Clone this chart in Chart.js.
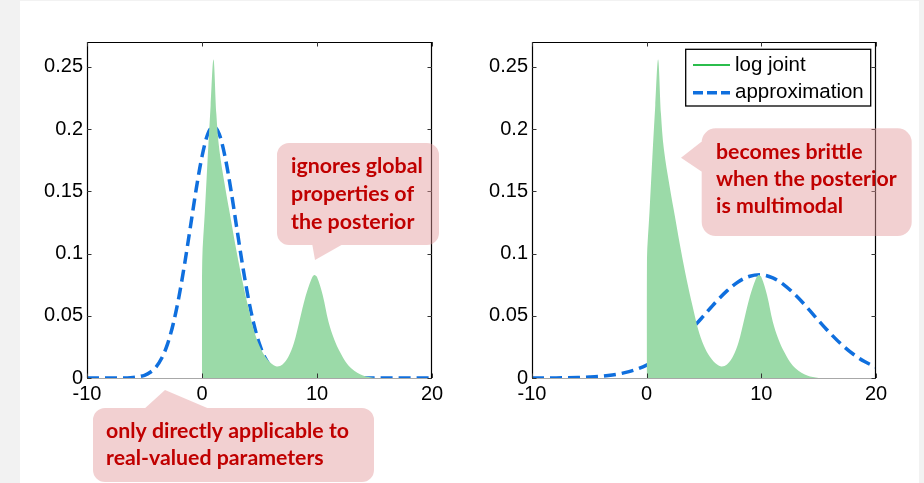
<!DOCTYPE html>
<html><head><meta charset="utf-8">
<script src="https://cdn.jsdelivr.net/npm/chart.js@4.4.1/dist/chart.umd.min.js"></script>
<style>
html,body{margin:0;padding:0;background:#f2f2f2;width:924px;height:483px;overflow:hidden}
#panel{position:absolute;left:20px;top:1px;width:899px;height:482px;background:#fff}
canvas{position:absolute;top:0}
#c1{left:0px}
#c2{left:462px}
</style></head><body>
<div id="panel"></div>
<canvas id="c1" width="462" height="483"></canvas>
<canvas id="c2" width="462" height="483"></canvas>
<script>
// ---- data ----
const xTicks = [-10, 0, 10, 20];
const xTickLabels = ['-10', '0', '10', '20'];
const yTicks = [0, 0.05, 0.1, 0.15, 0.2, 0.25];
const yTickLabels = ['0', '0.05', '0.1', '0.15', '0.2', '0.25'];
const seriesNames = ['log joint', 'approximation'];

const logJointX = [0, 0.02, 0.25, 0.5, 0.75, 1, 1.25, 1.5, 2, 2.5, 3, 3.5, 4, 4.5, 5, 5.5, 6, 6.5, 7, 7.5, 8, 8.5, 9, 9.5, 9.75, 10, 10.5, 11, 11.5, 12, 12.5, 13, 13.5, 14, 14.5, 15];
const logJointY = [0, 0.094, 0.134, 0.178, 0.219, 0.256, 0.212, 0.184, 0.154, 0.128, 0.102, 0.0786, 0.0578, 0.0388, 0.0258, 0.0172, 0.0118, 0.0093, 0.0108, 0.0168, 0.0283, 0.0468, 0.0655, 0.0792, 0.0828, 0.0812, 0.0665, 0.0452, 0.031, 0.0208, 0.0128, 0.0076, 0.0042, 0.0021, 0.0008, 0];

const approxLeftX = [-10, -9.5, -9, -8.5, -8, -7.5, -7, -6.5, -6, -5.5, -5, -4.5, -4, -3.5, -3, -2.5, -2, -1.5, -1, -0.5, 0, 0.5, 1, 1.5, 2, 2.5, 3, 3.5, 4, 4.5, 5, 5.5, 6, 6.5, 7, 7.5, 8, 8.5, 9, 9.5, 10, 10.5, 11, 11.5, 12, 12.5, 13, 13.5, 14, 14.5, 15, 15.5, 16, 16.5, 17, 17.5, 18, 18.5, 19, 19.5, 20];
const approxLeftY = [0, 0, 0, 0, 0, 0, 0, 0.0001, 0.0004, 0.001, 0.0022, 0.0046, 0.0088, 0.016, 0.0272, 0.0436, 0.0655, 0.0922, 0.122, 0.152, 0.178, 0.196, 0.202, 0.196, 0.178, 0.152, 0.122, 0.0922, 0.0655, 0.0436, 0.0272, 0.016, 0.0088, 0.0046, 0.0022, 0.001, 0.0004, 0.0001, 0, 0, 0, 0, 0, 0, 0, 0, 0, 0, 0, 0, 0, 0, 0, 0, 0, 0, 0, 0, 0, 0, 0];

const approxRightX = [-10, -9, -8, -7, -6, -5, -4, -3, -2, -1, 0, 1, 2, 3, 4, 5, 6, 7, 8, 9, 10, 11, 12, 13, 14, 15, 16, 17, 18, 19, 20];
const approxRightY = [0.00002, 0.00004, 0.00009, 0.00018, 0.00037, 0.00072, 0.0013, 0.0024, 0.0041, 0.0066, 0.0103, 0.0155, 0.0222, 0.0304, 0.040, 0.0503, 0.0607, 0.070, 0.0774, 0.0818, 0.0829, 0.0804, 0.0747, 0.0665, 0.0566, 0.0461, 0.036, 0.0269, 0.0193, 0.0132, 0.0087];

const noteGlobal = ['ignores global', 'properties of', 'the posterior'];
const noteReal = ['only directly applicable to', 'real-valued parameters'];
const noteBrittle = ['becomes brittle', 'when the posterior', 'is multimodal'];

// ---- styles ----
const GREEN_FILL = '#9bdaa8';
const GREEN_LINE = '#2bbd4c';
const BLUE = '#0f6fde';
const DASH = [12, 6];
const CALLOUT_FILL = 'rgba(226,150,152,0.45)';
const CALLOUT_TEXT = '#c00000';
const CALLOUT_FONT = 'Lato';

function pts(xs, ys) { return xs.map((x, i) => ({ x: x, y: ys[i] })); }

const framePlugin = {
  id: 'frame',
  afterDatasetsDraw(chart) {
    const { ctx, chartArea: a, scales } = chart;
    const x = scales.x, y = scales.y;
    ctx.save();
    ctx.lineWidth = 1;
    ctx.strokeStyle = '#a8a8a8';
    ctx.beginPath(); ctx.moveTo(a.left, a.bottom + 0.5); ctx.lineTo(a.right, a.bottom + 0.5); ctx.stroke();
    ctx.strokeStyle = '#000';
    ctx.lineWidth = 1.2;
    ctx.beginPath();
    ctx.moveTo(a.left + 0.5, a.bottom); ctx.lineTo(a.left + 0.5, a.top + 0.5);
    ctx.lineTo(a.right - 0.5, a.top + 0.5); ctx.lineTo(a.right - 0.5, a.bottom);
    ctx.stroke();
    ctx.lineWidth = 1;
    ctx.strokeStyle = '#333';
    ctx.beginPath();
    yTicks.forEach(v => {
      const py = Math.round(y.getPixelForValue(v)) + 0.5;
      ctx.moveTo(a.left, py); ctx.lineTo(a.left + 4.5, py);
      ctx.moveTo(a.right - 4.5, py); ctx.lineTo(a.right, py);
    });
    xTicks.forEach(v => {
      const px = Math.round(x.getPixelForValue(v)) + 0.5;
      ctx.moveTo(px, a.top); ctx.lineTo(px, a.top + 4.5);
      ctx.moveTo(px, a.bottom - 4.5); ctx.lineTo(px, a.bottom);
    });
    ctx.stroke();
    ctx.restore();
  }
};

function makeLegendPlugin(cfg) {
  return {
    id: 'innerLegend',
    afterDatasetsDraw(chart) {
      if (!cfg) return;
      const ctx = chart.ctx;
      const b = cfg.box;
      ctx.save();
      ctx.fillStyle = '#fff';
      ctx.fillRect(b[0], b[1], b[2] - b[0], b[3] - b[1]);
      ctx.strokeStyle = '#000';
      ctx.lineWidth = 1.3;
      ctx.strokeRect(b[0], b[1], b[2] - b[0], b[3] - b[1]);
      ctx.font = cfg.fontSize + 'px "Liberation Sans", Arial, sans-serif';
      ctx.textBaseline = 'middle';
      ctx.textAlign = 'left';
      chart.data.datasets.forEach((ds, i) => {
        const yy = cfg.rows[i];
        ctx.strokeStyle = ds.legendColor;
        ctx.lineWidth = ds.legendWidth;
        ctx.setLineDash(ds.legendDash);
        ctx.beginPath(); ctx.moveTo(cfg.lineX[0], yy); ctx.lineTo(cfg.lineX[1], yy); ctx.stroke();
        ctx.setLineDash([]);
        ctx.fillStyle = '#000';
        ctx.fillText(ds.label, cfg.textX, yy);
      });
      ctx.restore();
    }
  };
}

function makeCalloutPlugin(list) {
  return {
    id: 'callouts',
    afterDraw(chart) {
      const ctx = chart.ctx;
      ctx.save();
      list.forEach(c => {
        const [x1, y1, x2, y2] = c.box, r = c.r;
        ctx.beginPath();
        ctx.moveTo(x1 + r, y1);
        ctx.lineTo(x2 - r, y1); ctx.arcTo(x2, y1, x2, y1 + r, r);
        ctx.lineTo(x2, y2 - r); ctx.arcTo(x2, y2, x2 - r, y2, r);
        ctx.lineTo(x1 + r, y2); ctx.arcTo(x1, y2, x1, y2 - r, r);
        ctx.lineTo(x1, y1 + r); ctx.arcTo(x1, y1, x1 + r, y1, r);
        ctx.closePath();
        let t = c.tail.slice();
        const area = (t[0][0] * t[1][1] - t[1][0] * t[0][1]) + (t[1][0] * t[2][1] - t[2][0] * t[1][1]) + (t[2][0] * t[0][1] - t[0][0] * t[2][1]);
        if (area < 0) t = t.reverse();
        ctx.moveTo(t[0][0], t[0][1]); ctx.lineTo(t[1][0], t[1][1]); ctx.lineTo(t[2][0], t[2][1]); ctx.closePath();
        ctx.fillStyle = CALLOUT_FILL;
        ctx.fill('nonzero');
        ctx.font = 'bold 20px ' + CALLOUT_FONT;
        const w = Math.max(...c.lines.map(s => ctx.measureText(s).width));
        const size = 20 * c.fitWidth / w;
        ctx.font = 'bold ' + size.toFixed(2) + 'px ' + CALLOUT_FONT;
        ctx.fillStyle = CALLOUT_TEXT;
        ctx.textBaseline = 'alphabetic';
        ctx.textAlign = 'left';
        c.lines.forEach((s, i) => ctx.fillText(s, c.textX, c.baseY + i * c.dy));
      });
      ctx.restore();
    }
  };
}

function makeChart(id, ax, ay, o) {
  return new Chart(document.getElementById(id), {
    type: 'line',
    data: {
      datasets: [
        { label: seriesNames[0], data: pts(logJointX, logJointY), fill: 'origin', backgroundColor: GREEN_FILL,
          borderColor: 'rgba(0,0,0,0)', borderWidth: 0, pointRadius: 0, tension: 0.35,
          legendColor: GREEN_LINE, legendWidth: 2, legendDash: [] },
        { label: seriesNames[1], data: pts(ax, ay), fill: false, borderColor: BLUE, borderWidth: 3.5,
          borderDash: DASH, pointRadius: 0, cubicInterpolationMode: 'monotone',
          legendColor: BLUE, legendWidth: 3.5, legendDash: [10, 4] }
      ]
    },
    options: {
      responsive: false, animation: false, devicePixelRatio: 1,
      layout: { padding: { left: 0, top: 42, right: o.padRight, bottom: 75 } },
      plugins: { legend: { display: false }, tooltip: { enabled: false } },
      scales: {
        x: {
          type: 'linear', min: -10, max: 20,
          afterBuildTicks: s => { s.ticks = xTicks.map(v => ({ value: v })); },
          afterFit: s => { s.height = 30; },
          grid: { display: false, drawTicks: false }, border: { display: false },
          ticks: { padding: 4, color: '#000', font: { family: 'Liberation Sans', size: 20 }, maxRotation: 0, autoSkip: false,
                   callback: (v, i) => xTickLabels[i] }
        },
        y: {
          type: 'linear', min: 0, max: 0.27,
          afterBuildTicks: s => { s.ticks = yTicks.map(v => ({ value: v })); },
          afterFit: s => { s.width = o.yWidth; },
          grid: { display: false, drawTicks: false }, border: { display: false },
          ticks: { padding: 4, color: '#000', font: { family: 'Liberation Sans', size: 20 }, autoSkip: false,
                   callback: (v, i) => yTickLabels[i] }
        }
      }
    },
    plugins: [framePlugin, makeLegendPlugin(o.legend), makeCalloutPlugin(o.callouts)]
  });
}

makeChart('c1', approxLeftX, approxLeftY, {
  padRight: 30, yWidth: 87,
  legend: null,
  callouts: [
    { box: [277, 143, 439, 245], r: 12, tail: [[312, 243], [315, 260], [345, 243]],
      lines: noteGlobal, textX: 291, baseY: 172.5, dy: 28, fitWidth: 132 },
    { box: [93, 408, 374, 482], r: 12, tail: [[143, 410], [165, 390], [212, 410]],
      lines: noteReal, textX: 106, baseY: 437.5, dy: 27.5, fitWidth: 243 }
  ]
});

makeChart('c2', approxRightX, approxRightY, {
  padRight: 48, yWidth: 70,
  legend: { box: [223.7, 49.3, 408.7, 106], rows: [65, 92.7], lineX: [231, 268], textX: 273, fontSize: 20.5 },
  callouts: [
    { box: [239.7, 128.3, 449.7, 236], r: 14, tail: [[241.7, 140], [219, 157.7], [241.7, 173]],
      lines: noteBrittle, textX: 254, baseY: 158.5, dy: 27, fitWidth: 180.7 }
  ]
});
</script>
</body></html>
